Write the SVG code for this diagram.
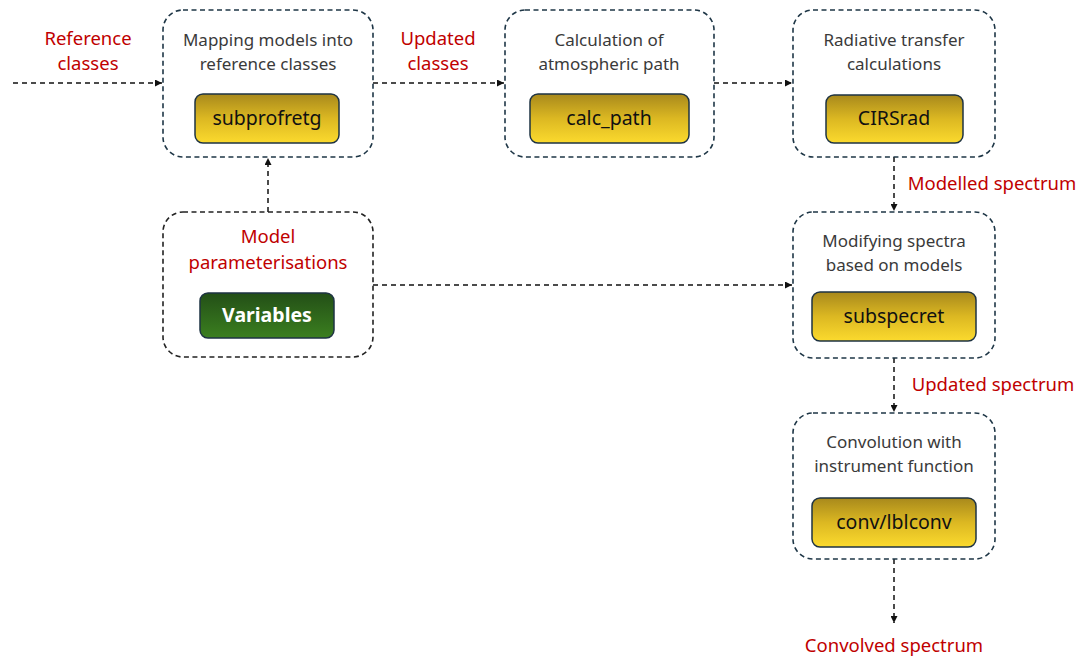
<svg xmlns="http://www.w3.org/2000/svg" width="1080" height="657" viewBox="0 0 1080 657">
<defs>
<linearGradient id="gold" x1="0" y1="0" x2="0" y2="1">
<stop offset="0" stop-color="#a8891c"/>
<stop offset="0.5" stop-color="#dcb822"/>
<stop offset="1" stop-color="#fbda2e"/>
</linearGradient>
<linearGradient id="green" x1="0" y1="0" x2="0" y2="1">
<stop offset="0" stop-color="#234f17"/>
<stop offset="1" stop-color="#3b7f1f"/>
</linearGradient>
<marker id="arr" viewBox="0 0 10 10" refX="10" refY="5" markerWidth="7" markerHeight="7" markerUnits="userSpaceOnUse" orient="auto">
<path d="M0,0 L10,5 L0,10 z" fill="#111"/>
</marker>
</defs>
<style>
.outer{fill:#fff;stroke:#1e3646;stroke-width:1.6;stroke-dasharray:5 3.5}
.outerk{fill:#fff;stroke:#222;stroke-width:1.6;stroke-dasharray:5 3.5}
.inner{fill:url(#gold);stroke:#1e3343;stroke-width:1.5}
.innerg{fill:url(#green);stroke:#1e3343;stroke-width:1.5}
.desc{font-family:"Noto Sans","Open Sans",sans-serif;font-size:17px;fill:#3a3a3a;text-anchor:middle}
.code{font-family:"Noto Sans","Open Sans",sans-serif;font-size:19.5px;fill:#111;text-anchor:middle}
.codew{font-family:"Noto Sans","Open Sans",sans-serif;font-size:19.5px;font-weight:bold;fill:#fff;text-anchor:middle}
.lbl{font-family:"Noto Sans","Open Sans",sans-serif;font-size:18.5px;fill:#c00000;text-anchor:middle}
.conn{fill:none;stroke:#111;stroke-width:1.5;stroke-dasharray:5 4}
</style>
<rect width="1080" height="657" fill="#fff"/>

<g id="connectors">
<line class="conn" x1="13" y1="83" x2="162" y2="83" marker-end="url(#arr)"/>
<line class="conn" x1="373" y1="83" x2="504" y2="83" marker-end="url(#arr)"/>
<line class="conn" x1="714" y1="83" x2="792" y2="83" marker-end="url(#arr)"/>
<line class="conn" x1="894" y1="157" x2="894" y2="211" marker-end="url(#arr)"/>
<line class="conn" x1="894" y1="358" x2="894" y2="412" marker-end="url(#arr)"/>
<line class="conn" x1="894" y1="559" x2="894" y2="623" marker-end="url(#arr)"/>
<line class="conn" x1="268" y1="212" x2="268" y2="158" marker-end="url(#arr)"/>
<line class="conn" x1="373" y1="285" x2="792" y2="285" marker-end="url(#arr)"/>
</g>

<g id="labels">
<text class="lbl" x="88" y="45">Reference</text>
<text class="lbl" x="88" y="70">classes</text>
<text class="lbl" x="438" y="45">Updated</text>
<text class="lbl" x="438" y="70">classes</text>
<text class="lbl" x="992" y="190">Modelled spectrum</text>
<text class="lbl" x="993" y="391">Updated spectrum</text>
<text class="lbl" x="894" y="652">Convolved spectrum</text>
</g>

<g id="mapping">
<rect class="outer" x="163" y="10" width="210" height="147" rx="20"/>
<text class="desc" x="268" y="46">Mapping models into</text>
<text class="desc" x="268" y="70">reference classes</text>
<rect class="inner" x="195" y="94" width="144" height="49" rx="8"/>
<text class="code" x="267" y="125">subprofretg</text>
</g>

<g id="calcpath">
<rect class="outer" x="505" y="10" width="209" height="147" rx="20"/>
<text class="desc" x="609" y="46">Calculation of</text>
<text class="desc" x="609" y="70">atmospheric path</text>
<rect class="inner" x="530" y="94" width="159" height="49" rx="8"/>
<text class="code" x="609" y="125">calc_path</text>
</g>

<g id="cirsrad">
<rect class="outer" x="793" y="10" width="202" height="147" rx="20"/>
<text class="desc" x="894" y="46">Radiative transfer</text>
<text class="desc" x="894" y="70">calculations</text>
<rect class="inner" x="826" y="95" width="137" height="48" rx="8"/>
<text class="code" x="894" y="125">CIRSrad</text>
</g>

<g id="model">
<rect class="outerk" x="163" y="212" width="210" height="145" rx="20"/>
<text class="lbl" x="268" y="243">Model</text>
<text class="lbl" x="268" y="269">parameterisations</text>
<rect class="innerg" x="200" y="293" width="134" height="45" rx="8"/>
<text class="codew" x="267" y="322">Variables</text>
</g>

<g id="subspecret">
<rect class="outer" x="793" y="212" width="202" height="146" rx="20"/>
<text class="desc" x="894" y="247">Modifying spectra</text>
<text class="desc" x="894" y="271">based on models</text>
<rect class="inner" x="812" y="292" width="164" height="49" rx="8"/>
<text class="code" x="894" y="323">subspecret</text>
</g>

<g id="conv">
<rect class="outer" x="793" y="413" width="202" height="146" rx="20"/>
<text class="desc" x="894" y="448">Convolution with</text>
<text class="desc" x="894" y="472">instrument function</text>
<rect class="inner" x="812" y="498" width="164" height="49" rx="8"/>
<text class="code" x="894" y="529">conv/lblconv</text>
</g>
</svg>
